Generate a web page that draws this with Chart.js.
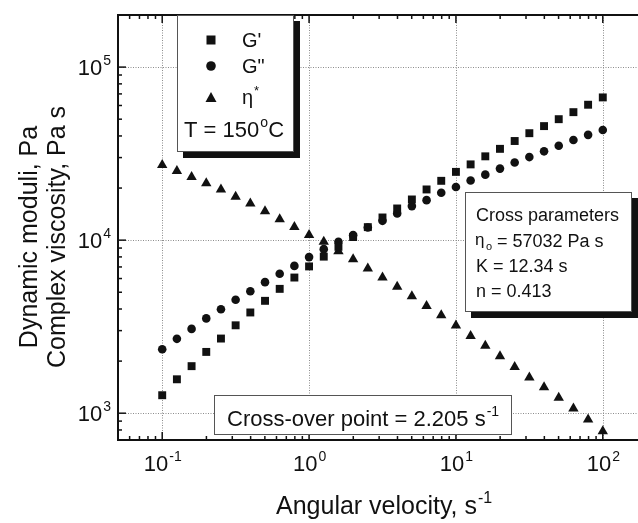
<!DOCTYPE html>
<html>
<head>
<meta charset="utf-8">
<script src="https://cdn.jsdelivr.net/npm/chart.js@4.4.1/dist/chart.umd.min.js"></script>
<style>
  html, body { margin: 0; padding: 0; background: #fff; }
  #contenedor { width: 638px; height: 523px; overflow: hidden; position: relative; }
  canvas { display: block; }
</style>
</head>
<body>
<div id="contenedor"><canvas id="grafica" width="660" height="523"></canvas></div>
<script>
// frecuencia angular (s-1) y modulos / viscosidad medidos a 150 C
const frecuencias = [0.1, 0.1259, 0.1585, 0.1995, 0.2512, 0.3162, 0.3981, 0.5012, 0.631, 0.7943,
  1, 1.259, 1.585, 1.995, 2.512, 3.162, 3.981, 5.012, 6.31, 7.943,
  10, 12.59, 15.85, 19.95, 25.12, 31.62, 39.81, 50.12, 63.1, 79.43, 100];

const gPrima = [1270, 1570, 1870, 2260, 2700, 3220, 3820, 4460, 5230, 6080,
  7050, 8030, 9150, 10420, 11890, 13520, 15240, 17180, 19630, 22020,
  24800, 27400, 30500, 33700, 37400, 41500, 45600, 50000, 54900, 60600, 66800];

const gDoblePrima = [2340, 2690, 3070, 3530, 3990, 4520, 5070, 5720, 6390, 7100,
  7980, 8870, 9780, 10690, 11840, 12930, 14270, 15730, 17030, 18770,
  20300, 22100, 23900, 25900, 28100, 30200, 32600, 35100, 37900, 40600, 43300];

const etaCompleja = [27200, 25100, 23200, 21300, 19600, 17800, 16300, 14700, 13200, 11900,
  10700, 9780, 8640, 7760, 6860, 6085, 5370, 4745, 4170, 3680,
  3215, 2790, 2450, 2135, 1850, 1610, 1410, 1230, 1065, 920, 787];

const decadasX = [0.1, 1, 10, 100];
const exponentesX = ['-1', '0', '1', '2'];
const decadasY = [1000, 10000, 100000];
const exponentesY = ['3', '4', '5'];

const fuente = '"Liberation Sans", Arial, sans-serif';
const negro = '#111';

function puntos(valores) {
  return frecuencias.map((f, i) => ({ x: f, y: valores[i] }));
}

function textoConExponente(ctx, base, exp, x, y, size, align) {
  const sizeExp = Math.round(size * 0.63);
  ctx.font = `${size}px ${fuente}`;
  const wBase = ctx.measureText(base).width;
  ctx.font = `${sizeExp}px ${fuente}`;
  const wExp = ctx.measureText(exp).width;
  let inicio = x;
  if (align === 'center') inicio = x - (wBase + wExp) / 2;
  if (align === 'right') inicio = x - wBase - wExp;
  ctx.textAlign = 'left';
  ctx.textBaseline = 'alphabetic';
  ctx.font = `${size}px ${fuente}`;
  ctx.fillText(base, inicio, y);
  ctx.font = `${sizeExp}px ${fuente}`;
  ctx.fillText(exp, inicio + wBase + 1, y - size * 0.45);
}

function cajaConSombra(ctx, x, y, w, h, sombra) {
  if (sombra) {
    ctx.fillStyle = negro;
    ctx.fillRect(x + sombra, y + sombra, w, h);
  }
  ctx.fillStyle = '#fff';
  ctx.fillRect(x, y, w, h);
  ctx.strokeStyle = '#555';
  ctx.lineWidth = 1;
  ctx.strokeRect(x + 0.5, y + 0.5, w - 1, h - 1);
}

const marco = {
  id: 'marco',
  beforeDatasetsDraw(chart) {
    const { ctx, chartArea: a, scales } = chart;
    ctx.save();
    ctx.strokeStyle = '#8c8c8c';
    ctx.lineWidth = 1;
    ctx.setLineDash([1, 1.5]);
    decadasX.forEach(v => {
      const px = Math.round(scales.x.getPixelForValue(v)) + 0.5;
      ctx.beginPath(); ctx.moveTo(px, a.top); ctx.lineTo(px, a.bottom); ctx.stroke();
    });
    decadasY.forEach(v => {
      const py = Math.round(scales.y.getPixelForValue(v)) + 0.5;
      ctx.beginPath(); ctx.moveTo(a.left, py); ctx.lineTo(a.right, py); ctx.stroke();
    });
    ctx.restore();
  },
  afterDatasetsDraw(chart) {
    const { ctx, chartArea: a, scales } = chart;
    const sx = scales.x, sy = scales.y;
    ctx.save();
    ctx.fillStyle = negro;
    ctx.strokeStyle = negro;

    // marcas de escala hacia adentro (mayores y menores)
    ctx.lineWidth = 1.5;
    for (let e = -2; e <= 2; e++) {
      for (let k = 1; k <= 9; k++) {
        const v = k * Math.pow(10, e);
        if (v < sx.min || v > sx.max) continue;
        const px = sx.getPixelForValue(v);
        const largo = k === 1 ? 8 : 4;
        ctx.beginPath();
        ctx.moveTo(px, a.bottom); ctx.lineTo(px, a.bottom - largo);
        ctx.moveTo(px, a.top); ctx.lineTo(px, a.top + largo);
        ctx.stroke();
      }
    }
    for (let e = 2; e <= 5; e++) {
      for (let k = 1; k <= 9; k++) {
        const v = k * Math.pow(10, e);
        if (v < sy.min || v > sy.max) continue;
        const py = sy.getPixelForValue(v);
        const largo = k === 1 ? 8 : 4;
        ctx.beginPath();
        ctx.moveTo(a.left, py); ctx.lineTo(a.left + largo, py);
        ctx.stroke();
      }
    }

    // ejes
    ctx.fillRect(a.left - 1, a.top - 1, a.right - a.left + 2, 2);
    ctx.fillRect(a.left - 1, a.bottom - 1, a.right - a.left + 2, 2);
    ctx.fillRect(a.left - 1, a.top - 1, 2, a.bottom - a.top + 2);

    // etiquetas de los ejes
    decadasX.forEach((v, i) => {
      textoConExponente(ctx, '10', exponentesX[i], sx.getPixelForValue(v), a.bottom + 31, 22, 'center');
    });
    decadasY.forEach((v, i) => {
      textoConExponente(ctx, '10', exponentesY[i], a.left - 8, sy.getPixelForValue(v) + 8, 22, 'right');
    });

    // titulos
    textoConExponente(ctx, 'Angular velocity, s', '-1', 276, 514, 25, 'left');
    ctx.save();
    ctx.translate(0, 237);
    ctx.rotate(-Math.PI / 2);
    ctx.font = `25px ${fuente}`;
    ctx.textAlign = 'center';
    ctx.textBaseline = 'middle';
    ctx.fillText('Dynamic moduli, Pa', 0, 30);
    ctx.fillText('Complex viscosity, Pa s', 0, 58);
    ctx.restore();

    // leyenda
    cajaConSombra(ctx, a.left + 59, a.top, 117, 137, 6);
    ctx.fillStyle = negro;
    const mx = a.left + 93;
    ctx.fillRect(mx - 4.5, a.top + 25 - 4.5, 9, 9);
    ctx.beginPath(); ctx.arc(mx, a.top + 51, 4.8, 0, Math.PI * 2); ctx.fill();
    ctx.beginPath();
    ctx.moveTo(mx, a.top + 77); ctx.lineTo(mx + 5.5, a.top + 87); ctx.lineTo(mx - 5.5, a.top + 87);
    ctx.closePath(); ctx.fill();
    ctx.font = `20px ${fuente}`;
    ctx.textAlign = 'left';
    ctx.textBaseline = 'alphabetic';
    ctx.fillText("G'", a.left + 124, a.top + 32);
    ctx.fillText('G"', a.left + 124, a.top + 58);
    textoConExponente(ctx, '\u03b7', '*', a.left + 124, a.top + 89, 20, 'left');
    ctx.font = `22px ${fuente}`;
    ctx.fillText('T = 150', a.left + 66, a.top + 122);
    const wT = ctx.measureText('T = 150').width;
    ctx.font = `14px ${fuente}`;
    ctx.fillText('o', a.left + 66 + wT + 1, a.top + 112);
    ctx.font = `22px ${fuente}`;
    ctx.fillText('C', a.left + 66 + wT + 9, a.top + 122);

    // parametros del modelo de Cross
    cajaConSombra(ctx, 465, 192, 167, 120, 6);
    ctx.fillStyle = negro;
    ctx.font = `18px ${fuente}`;
    ctx.textAlign = 'left';
    ctx.fillText('Cross parameters', 476, 221);
    ctx.font = `17px ${fuente}`;
    ctx.fillText('\u03b7', 475, 245);
    ctx.font = `11px ${fuente}`;
    ctx.fillText('o', 486, 250);
    ctx.font = `18px ${fuente}`;
    ctx.fillText('= 57032 Pa s', 497, 247);
    ctx.fillText('K = 12.34 s', 476, 272);
    ctx.fillText('n = 0.413', 476, 297);

    // punto de cruce
    cajaConSombra(ctx, 214, 395, 298, 40, 0);
    ctx.fillStyle = negro;
    textoConExponente(ctx, 'Cross-over point = 2.205 s', '-1', 227, 426, 22, 'left');

    ctx.restore();
  }
};

const config = {
  type: 'scatter',
  data: {
    datasets: [
      {
        label: "G'",
        data: puntos(gPrima),
        pointStyle: 'rect',
        pointRadius: 5.6,
        backgroundColor: negro,
        borderColor: negro,
        borderWidth: 0
      },
      {
        label: 'G"',
        data: puntos(gDoblePrima),
        pointStyle: 'circle',
        pointRadius: 4.3,
        backgroundColor: negro,
        borderColor: negro,
        borderWidth: 0
      },
      {
        label: '\u03b7*',
        data: puntos(etaCompleja),
        pointStyle: 'triangle',
        pointRadius: 6,
        backgroundColor: negro,
        borderColor: negro,
        borderWidth: 0
      }
    ]
  },
  options: {
    responsive: false,
    animation: false,
    layout: { padding: { left: 118, top: 15, right: 13, bottom: 83 } },
    plugins: { legend: { display: false }, tooltip: { enabled: false } },
    scales: {
      x: { type: 'logarithmic', min: 0.05, max: 200, display: false },
      y: { type: 'logarithmic', min: 700, max: 200000, display: false }
    }
  },
  plugins: [marco]
};

new Chart(document.querySelector('#grafica').getContext('2d'), config);
</script>
</body>
</html>
